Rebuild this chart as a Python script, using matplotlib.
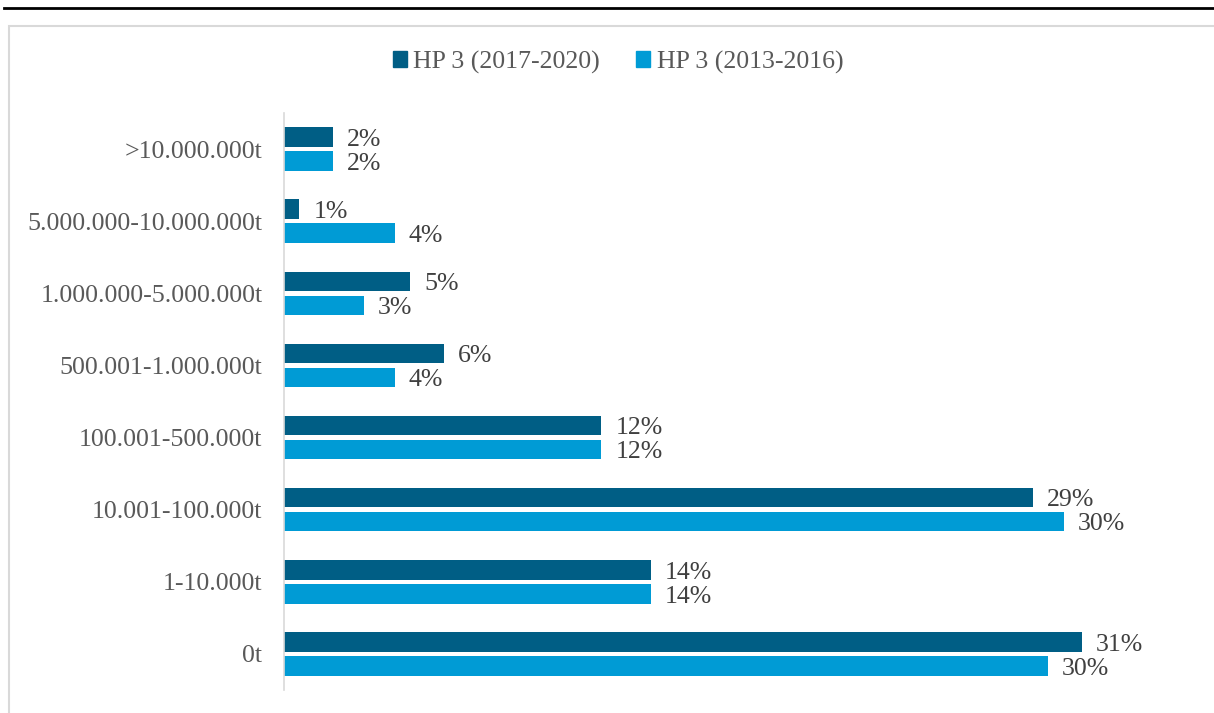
import matplotlib
matplotlib.use("Agg")
import matplotlib.pyplot as plt
import numpy as np
from matplotlib.patches import Rectangle
from matplotlib.lines import Line2D

# Categories listed bottom to top
categories = ["0t", "1-10.000t", "10.001-100.000t", "100.001-500.000t",
              "500.001-1.000.000t", "1.000.000-5.000.000t",
              "5.000.000-10.000.000t", ">10.000.000t"]

# Shares in percent
hp3_2017_2020 = [30.9, 14.2, 29.0, 12.3, 6.2, 4.9, 0.6, 1.9]
hp3_2013_2016 = [29.6, 14.2, 30.2, 12.3, 4.3, 3.1, 4.3, 1.9]

series_names = ["HP 3 (2017-2020)", "HP 3 (2013-2016)"]
colors = ["#005E85", "#009BD5"]

plt.rcParams['font.family'] = ['Liberation Serif', 'DejaVu Serif']
fs = 18.6

W, H = 1214, 713
fig = plt.figure(figsize=(W / 100, H / 100), dpi=100)
ax = fig.add_axes([284 / W, 1 - 690 / H, 906 / W, 577 / H])

y = np.arange(len(categories))
bar_h = 0.27
offset = 0.166

for vals, color, dy in [(hp3_2017_2020, colors[0], offset),
                        (hp3_2013_2016, colors[1], -offset)]:
    bars = ax.barh(y + dy, vals, height=bar_h, color=color)
    for b, v in zip(bars, vals):
        ax.annotate(f"{v:.0f}%", (b.get_width(), b.get_y() + b.get_height() / 2),
                    xytext=(10, -2), textcoords="offset points",
                    ha="left", va="center", fontsize=fs, color="#404040")

ax.set_xlim(0, 35.1)
ax.set_ylim(-0.5, len(categories) - 0.5)
ax.set_yticks(y)
ax.set_yticklabels(categories, fontsize=fs, color="#595959")
ax.tick_params(axis="y", length=0, pad=15.5)
ax.set_xticks([])
for side in ["top", "right", "bottom"]:
    ax.spines[side].set_visible(False)
ax.spines["left"].set_color("#d9d9d9")
ax.spines["left"].set_linewidth(1.2)

handles = [Rectangle((0, 0), 1, 1, color=c) for c in colors]
fig.legend(handles, series_names, loc="center", bbox_to_anchor=(618 / W, 1 - 62 / H),
           ncol=2, frameon=False, fontsize=fs, labelcolor="#595959",
           handlelength=0.55, handleheight=0.55, handletextpad=0.25,
           columnspacing=1.4)

# chart frame (partly cut off) and document rule above it
fig.patches.append(Rectangle((9 / W, -0.1), 1.2, (H - 26) / H + 0.1,
                             transform=fig.transFigure, fill=False,
                             edgecolor="#d9d9d9", linewidth=1.5))
fig.lines.append(Line2D([4 / W, 1], [1 - 8 / H, 1 - 8 / H],
                        transform=fig.transFigure, color="black", linewidth=2))

fig.savefig("out.png", dpi=100)
